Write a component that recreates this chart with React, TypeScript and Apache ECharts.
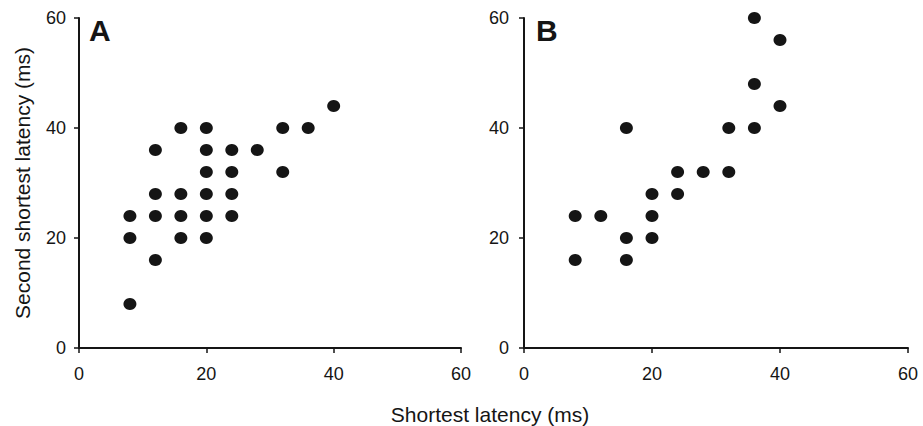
import React, { useEffect, useRef } from "react";
import * as echarts from "echarts";

const panelAX = [8, 8, 8, 12, 12, 12, 12, 16, 16, 16, 16, 20, 20, 20, 20, 20, 20, 24, 24, 24, 24, 28, 32, 32, 36, 40];
const panelAY = [8, 20, 24, 16, 24, 28, 36, 20, 24, 28, 40, 20, 24, 28, 32, 36, 40, 24, 28, 32, 36, 36, 32, 40, 40, 44];
const panelBX = [8, 8, 12, 16, 16, 16, 20, 20, 20, 24, 24, 28, 32, 32, 36, 36, 36, 40, 40];
const panelBY = [16, 24, 24, 16, 20, 40, 20, 24, 28, 28, 32, 32, 32, 40, 40, 48, 60, 44, 56];
const axisTicks = [0, 20, 40, 60];
const panelLabels = ["A", "B"];
const xTitle = "Shortest latency (ms)";
const yTitle = "Second shortest latency (ms)";

const FONT = "'Liberation Sans', Arial, Helvetica, sans-serif";
const INK = "#151515";

export default function App() {
  const ref = useRef<HTMLDivElement>(null);
  useEffect(() => {
    document.body.style.margin = "0";
    if (!ref.current) return;
    const chart = echarts.init(ref.current, null, { renderer: "svg" });
    const pairs = (xs: number[], ys: number[]) => xs.map((x, i) => [x, ys[i]]);
    const mkX = (gridIndex: number) => ({
      type: "value",
      gridIndex,
      min: axisTicks[0],
      max: axisTicks[axisTicks.length - 1],
      interval: 20,
      splitLine: { show: false },
      axisLine: { show: true, lineStyle: { color: INK, width: 2 } },
      axisTick: { show: true, length: 5, lineStyle: { color: INK, width: 1.5 } },
      axisLabel: { color: INK, fontSize: 18, fontFamily: FONT, margin: 17 },
    });
    const mkY = (gridIndex: number, margin: number) => ({
      type: "value",
      gridIndex,
      min: axisTicks[0],
      max: axisTicks[axisTicks.length - 1],
      interval: 20,
      splitLine: { show: false },
      axisLine: { show: true, lineStyle: { color: INK, width: 2 } },
      axisTick: { show: true, length: 5, lineStyle: { color: INK, width: 1.5 } },
      axisLabel: { color: INK, fontSize: 18, fontFamily: FONT, margin },
    });
    chart.setOption({
      animation: false,
      backgroundColor: "#ffffff",
      grid: [
        { left: 79, right: 462, top: 18, bottom: 78 },
        { left: 524, right: 15, top: 18, bottom: 78 },
      ],
      xAxis: [mkX(0), mkX(1)],
      yAxis: [mkY(0, 13), mkY(1, 15)],
      series: [
        {
          type: "scatter",
          xAxisIndex: 0,
          yAxisIndex: 0,
          data: pairs(panelAX, panelAY),
          symbolSize: [13, 12],
          itemStyle: { color: INK, opacity: 1 },
        },
        {
          type: "scatter",
          xAxisIndex: 1,
          yAxisIndex: 1,
          data: pairs(panelBX, panelBY),
          symbolSize: [13, 12],
          itemStyle: { color: INK, opacity: 1 },
        },
      ],
      graphic: [
        {
          type: "text",
          left: 89,
          top: 15,
          style: { text: panelLabels[0], fontSize: 30, fontWeight: "bold", fontFamily: FONT, fill: INK },
        },
        {
          type: "text",
          left: 536,
          top: 15,
          style: { text: panelLabels[1], fontSize: 30, fontWeight: "bold", fontFamily: FONT, fill: INK },
        },
        {
          type: "text",
          x: 490,
          y: 414,
          style: { text: xTitle, fontSize: 21, fontFamily: FONT, fill: INK, align: "center", verticalAlign: "middle" },
        },
        {
          type: "text",
          x: 22,
          y: 183,
          rotation: Math.PI / 2,
          style: { text: yTitle, fontSize: 21, fontFamily: FONT, fill: INK, align: "center", verticalAlign: "middle" },
        },
      ],
    });
    return () => chart.dispose();
  }, []);
  return <div ref={ref} style={{ width: 923, height: 426 }} />;
}
